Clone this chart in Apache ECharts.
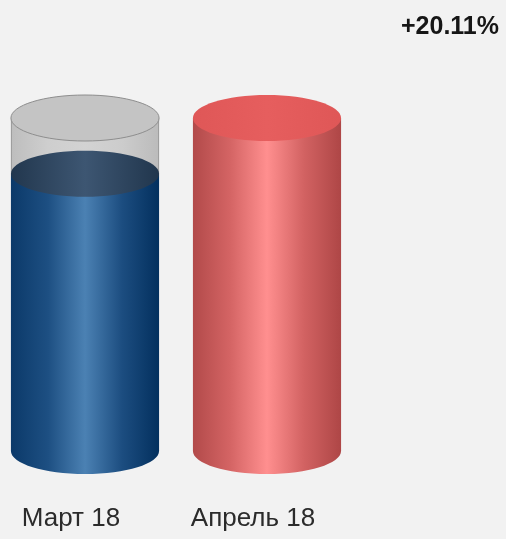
<!DOCTYPE html>
<html>
<head>
<meta charset="utf-8">
<script src="https://cdn.jsdelivr.net/npm/echarts@6/dist/echarts.min.js"></script>
<style>
  html, body { margin: 0; padding: 0; background: #f2f2f2; }
  #chart { width: 506px; height: 539px; }
</style>
</head>
<body>
<div id="chart"></div>
<script>
// months and relative levels (April is +20.11% over March)
const categories = ['Март 18', 'Апрель 18']
const values = [100, 120.11]
const changeLabel = '+20.11%'

const bodyColors = [
  ['#0b3969', '#1d4f82', '#4b81b3', '#1c4d80', '#03305e'],
  ['#b24a4a', '#d46464', '#ff8f8f', '#d26262', '#ae4646']
]
const topColors = [
  ['#22374e', '#3d5672', '#21364d'],
  ['#df5757', '#e65e5e', '#df5757']
]

const hGrad = (stops) => ({
  type: 'linear', x: 0, y: 0, x2: 1, y2: 0,
  colorStops: stops.map((c, i) => ({ offset: i / (stops.length - 1), color: c }))
})

const maxValue = Math.max(...values)

const renderItem = (params, api) => {
  const idx = api.value(0)
  const base = api.coord([idx, 0])
  const top = api.coord([idx, api.value(1)])
  const glassTop = api.coord([idx, api.value(2)])
  // cylinders sit a little left of the band centre
  const cx = base[0] - 6
  const rx = api.size([1, 0])[0] * 0.407
  const ry = 23
  const children = []

  if (glassTop[1] < top[1] - 1) {
    children.push({
      type: 'rect',
      shape: { x: cx - rx, y: glassTop[1], width: rx * 2, height: top[1] - glassTop[1] },
      style: { fill: hGrad(['#bdbdbd', '#cecece', '#d3d3d3', '#cccccc', '#bbbbbb']), stroke: null }
    })
    children.push({
      type: 'polyline',
      shape: { points: [[cx - rx + 0.5, glassTop[1]], [cx - rx + 0.5, top[1]]] },
      style: { stroke: '#9c9c9c', lineWidth: 1 }
    })
    children.push({
      type: 'polyline',
      shape: { points: [[cx + rx - 0.5, glassTop[1]], [cx + rx - 0.5, top[1]]] },
      style: { stroke: '#9c9c9c', lineWidth: 1 }
    })
    children.push({
      type: 'ellipse',
      shape: { cx: cx, cy: glassTop[1], rx: rx, ry: ry },
      style: { fill: '#c4c4c4', stroke: '#8e8e8e', lineWidth: 1 }
    })
  }

  const body = hGrad(bodyColors[idx])
  children.push({
    type: 'ellipse',
    shape: { cx: cx, cy: base[1], rx: rx, ry: ry },
    style: { fill: body }
  })
  children.push({
    type: 'rect',
    shape: { x: cx - rx, y: top[1], width: rx * 2, height: base[1] - top[1] },
    style: { fill: body }
  })
  children.push({
    type: 'ellipse',
    shape: { cx: cx, cy: top[1], rx: rx, ry: ry },
    style: { fill: hGrad(topColors[idx]) }
  })

  return { type: 'group', children: children }
}

const chart = echarts.init(document.getElementById('chart'), null, { renderer: 'canvas' })

chart.setOption({
  backgroundColor: '#f2f2f2',
  animation: false,
  grid: { left: 0, right: 142, top: 118, bottom: 88 },
  xAxis: {
    type: 'category',
    data: categories,
    axisLine: { show: false },
    axisTick: { show: false },
    axisLabel: {
      margin: 55,
      fontFamily: 'Liberation Sans, Arial, sans-serif',
      fontSize: 26,
      color: '#2b2b2b',
      padding: [0, 40, 0, 0]
    }
  },
  yAxis: { type: 'value', min: 0, max: maxValue, show: false },
  graphic: [{
    type: 'text',
    right: 7,
    top: 15,
    style: {
      text: changeLabel,
      font: 'bold 25px "Liberation Sans", Arial, sans-serif',
      fill: '#161616'
    }
  }],
  series: [{
    type: 'custom',
    renderItem: renderItem,
    data: values.map((v, i) => [i, v, maxValue])
  }]
})
</script>
</body>
</html>
